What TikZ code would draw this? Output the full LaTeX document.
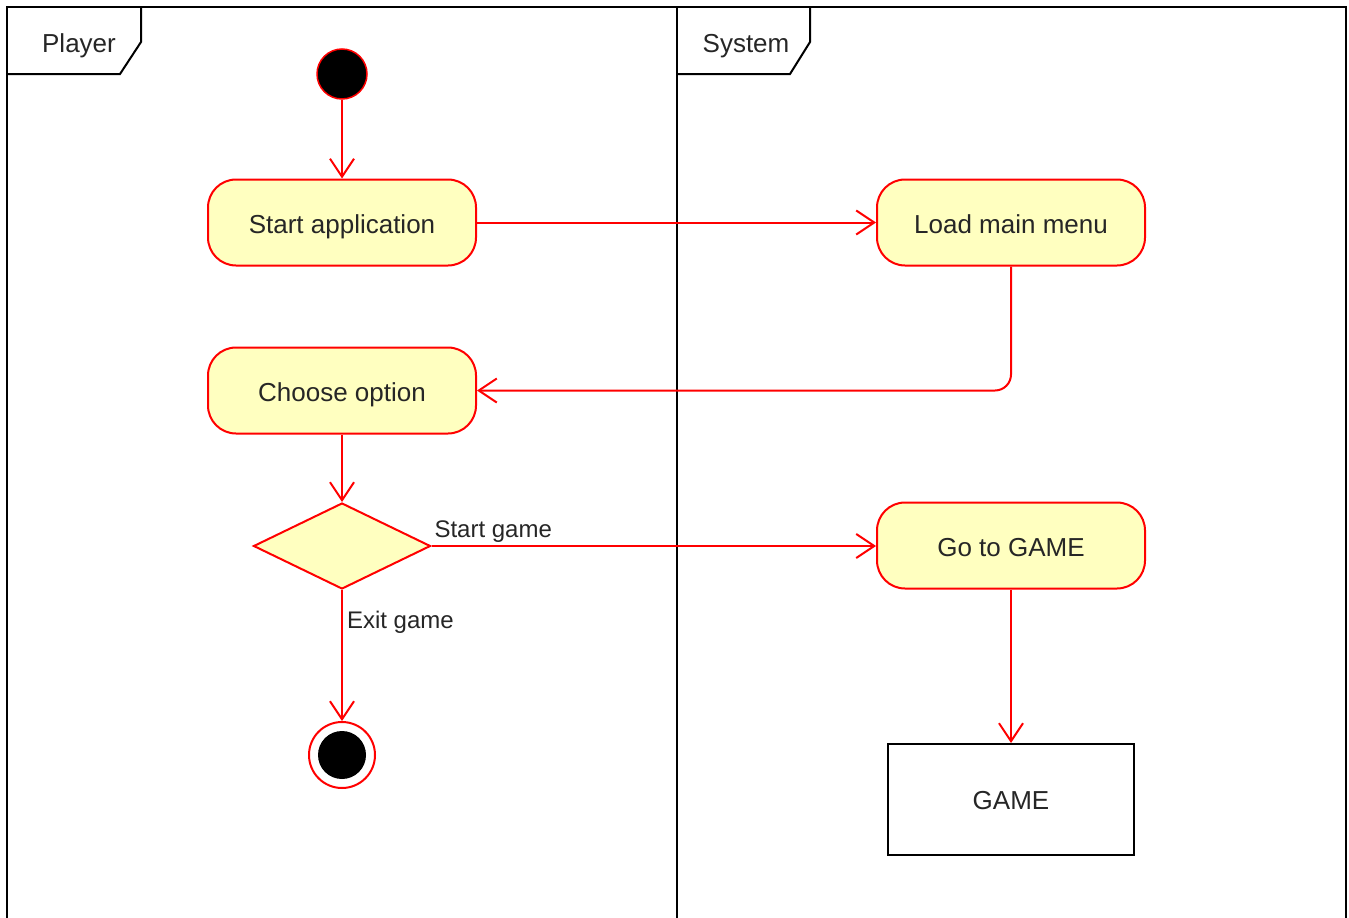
\documentclass[tikz,border=0pt]{standalone}
\usepackage{fontspec}
\setmainfont{Liberation Sans}
\usetikzlibrary{arrows.meta,shapes.geometric}
\definecolor{actfill}{HTML}{FFFFC0}
\definecolor{txt}{HTML}{262626}
\tikzset{
  action/.style={draw=red, fill=actfill, line width=2pt, rounded corners=28pt,
    minimum width=268pt, minimum height=86pt, inner sep=0pt, text=txt,
    text height=21pt, text depth=0pt,
    font=\fontsize{26}{30}\selectfont},
  decision/.style={draw=red, fill=actfill, line width=2pt, diamond,
    minimum width=177pt, minimum height=86pt, inner sep=0pt},
  flow/.style={draw=red, line width=2pt,
    -{Straight Barb[length=18pt,width=24pt,line width=2pt]}},
  lbl/.style={text=txt, inner sep=0pt, font=\fontsize{24}{28}\selectfont},
  frame/.style={draw=black, line width=2pt},
  tabtxt/.style={text=txt, inner sep=0pt, text height=19pt, text depth=0pt,
    font=\fontsize{26}{30}\selectfont},
}
\begin{document}
\begin{tikzpicture}[x=1pt,y=-1pt]
\useasboundingbox (0,0) rectangle (1349,918);
% frame and lanes
\draw[frame] (7,918) -- (7,7) -- (1346,7) -- (1346,918);
\draw[frame] (677,7) -- (677,918);
\draw[frame] (7,74) -- (120,74) -- (141,42) -- (141,7);
\draw[frame] (677,74) -- (790,74) -- (810,42) -- (810,7);
\node[tabtxt] (tplayer) at (79,42.5) {Player};
\node[tabtxt] (tsystem) at (746,42.5) {System};
% nodes
\node[circle, draw=red, fill=black, line width=1.5pt, minimum size=50pt, inner sep=0pt] (init) at (342,74) {};
\node[action] (start) at (342,222.5) {Start application};
\node[action] (load) at (1011,222.5) {Load main menu};
\node[action] (choose) at (342,390.5) {Choose option};
\node[decision] (dec) at (342,546) {};
\node[action] (go) at (1011,545.5) {Go to GAME};
\node[draw=black, line width=2pt, fill=white, minimum width=246pt, minimum height=111pt,
  inner sep=0pt, text=txt, text height=19pt, text depth=0pt,
  font=\fontsize{26}{30}\selectfont] (game) at (1011,799.5) {GAME};
\node[circle, draw=red, line width=2pt, fill=white, minimum size=66pt, inner sep=0pt,
  path picture={\fill[black] (path picture bounding box.center) circle (24pt);}] (final) at (342,755) {};
% connectors
\draw[flow] (init) -- (start);
\draw[flow] (start) -- (load);
\draw[flow, rounded corners=16pt] (load.south) |- (choose.east);
\draw[flow] (choose) -- (dec.north);
\draw[flow] (dec.east) -- (dec.east -| go.west)
  node[lbl, pos=0, anchor=base west, xshift=2pt, yshift=9pt] (lstart) {Start game};
\draw[flow] (go) -- (game);
\draw[flow] (dec.south) -- (final)
  node[lbl, pos=0, anchor=base west, xshift=4pt, yshift=-38pt] (lexit) {Exit game};
\end{tikzpicture}
\end{document}
